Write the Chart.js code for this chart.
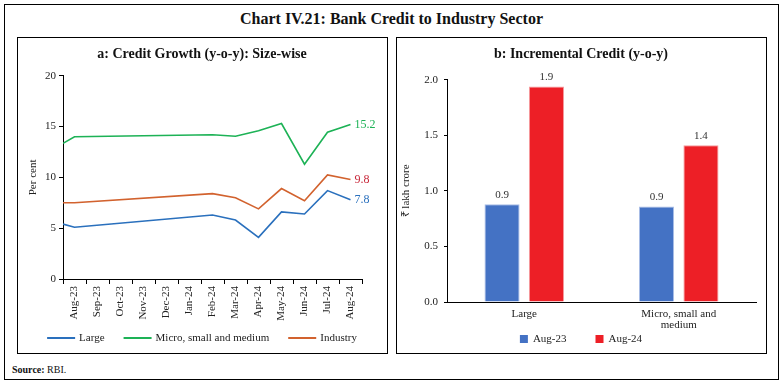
<!DOCTYPE html>
<html>
<head>
<meta charset="utf-8">
<script src="https://cdn.jsdelivr.net/npm/chart.js@4.4.1/dist/chart.umd.min.js"></script>
<style>
    body { margin: 0; background: #fff; width: 783px; height: 385px; position: relative; overflow: hidden; font-family: "Liberation Serif", serif; }
    #frame { position: absolute; left: 4px; top: 4px; width: 775px; height: 376px; border: 1.5px solid #000; box-sizing: border-box; }
    .panel { position: absolute; top: 37px; width: 371px; height: 317px; border: 1.5px solid #000; box-sizing: border-box; }
    #mainTitle { position: absolute; left: 0; width: 783px; top: 10px; text-align: center; font-weight: bold; font-size: 16px; color: #111; }
    #source { position: absolute; left: 12px; top: 364px; font-size: 10px; color: #111; }
    canvas { position: absolute; }
</style>
</head>
<body>
<div id="frame"></div>
<div id="mainTitle">Chart IV.21: Bank Credit to Industry Sector</div>
<div class="panel" style="left:17px"></div>
<div class="panel" style="left:396px"></div>
<canvas id="growthChart" width="368" height="316" style="left:18px;top:38px"></canvas>
<canvas id="creditChart" width="368" height="316" style="left:397px;top:38px"></canvas>
<div id="source"><b>Source:</b> RBI.</div>

<script>
// Panel a: credit growth, per cent (first value is the reading just before Aug-23, at the axis start)
const months = ['Aug-23', 'Sep-23', 'Oct-23', 'Nov-23', 'Dec-23', 'Jan-24', 'Feb-24',
                'Mar-24', 'Apr-24', 'May-24', 'Jun-24', 'Jul-24', 'Aug-24'];
const largeGrowth    = [5.4, 5.1, null, null, null, null, null, 6.3, 5.8, 4.1, 6.6, 6.4, 8.7, 7.8];
const msmeGrowth     = [13.35, 14.0, null, null, null, null, null, 14.2, 14.05, 14.6, 15.3, 11.3, 14.45, 15.2];
const industryGrowth = [7.5, 7.5, null, null, null, null, null, 8.4, 8.0, 6.9, 8.9, 7.7, 10.25, 9.8];

// Panel b: incremental credit, lakh crore
const sizeGroups = ['Large', ['Micro, small and', 'medium']];
const credAug23 = [0.88, 0.86];
const credAug24 = [1.94, 1.41];

const SERIF = '"Liberation Serif", serif';
const INK = '#222';

// x position on the hidden linear axis: start point sits on the axis edge, months at category centres
const toPoints = arr => arr.map((v, i) => ({ x: i === 0 ? -0.5 : i - 1, y: v }));

const endLabels = {
    id: 'endLabels',
    afterDatasetsDraw(chart) {
        const ctx = chart.ctx;
        ctx.save();
        ctx.font = '12px ' + SERIF;
        ctx.textBaseline = 'middle';
        chart.data.datasets.forEach((ds, i) => {
            const pts = chart.getDatasetMeta(i).data;
            const last = pts[pts.length - 1];
            ctx.fillStyle = ds.labelColor;
            ctx.fillText(ds.data[ds.data.length - 1].y.toFixed(1), last.x + 4, last.y);
        });
        ctx.restore();
    }
};

const barLabels = {
    id: 'barLabels',
    afterDatasetsDraw(chart) {
        const ctx = chart.ctx;
        ctx.save();
        ctx.font = '11px ' + SERIF;
        ctx.fillStyle = '#333';
        ctx.textAlign = 'center';
        ctx.textBaseline = 'bottom';
        chart.data.datasets.forEach((ds, i) => {
            chart.getDatasetMeta(i).data.forEach((bar, j) => {
                ctx.fillText(ds.data[j].toFixed(1), bar.x, bar.y - 4);
            });
        });
        ctx.restore();
    }
};

// legend drawn by hand: the built-in one ties item spacing to vertical padding
const bottomLegend = {
    id: 'bottomLegend',
    afterDraw(chart, args, opts) {
        const ctx = chart.ctx;
        ctx.save();
        ctx.font = '11px ' + SERIF;
        ctx.textBaseline = 'middle';
        const items = chart.data.datasets.map(ds => ({
            text: ds.label,
            color: opts.marker === 'line' ? ds.borderColor : ds.backgroundColor,
            w: opts.markerW + opts.textGap + ctx.measureText(ds.label).width
        }));
        const total = items.reduce((s, it) => s + it.w, 0) + opts.itemGap * (items.length - 1);
        let x = chart.width / 2 - total / 2;
        const y = opts.y;
        items.forEach(it => {
            ctx.fillStyle = it.color;
            if (opts.marker === 'line') {
                ctx.fillRect(x, y - 1, opts.markerW, 2);
            } else {
                ctx.fillRect(x, y - 4, opts.markerW, 8);
            }
            ctx.fillStyle = INK;
            ctx.fillText(it.text, x + opts.markerW + opts.textGap, y + 0.5);
            x += it.w + opts.itemGap;
        });
        ctx.restore();
    }
};

function lineSet(label, data, color, labelColor) {
    return {
        label: label,
        data: toPoints(data),
        xAxisID: 'xl',
        borderColor: color,
        backgroundColor: color,
        borderWidth: 1.6,
        pointRadius: 0,
        tension: 0,
        spanGaps: true,
        labelColor: labelColor
    };
}

new Chart(document.getElementById('growthChart'), {
    type: 'line',
    data: {
        labels: months,
        datasets: [
            lineSet('Large', largeGrowth, '#2a70bd', '#2a70bd'),
            lineSet('Micro, small and medium', msmeGrowth, '#1db256', '#1db256'),
            lineSet('Industry', industryGrowth, '#d2622e', '#c8283a')
        ]
    },
    options: {
        responsive: false,
        animation: false,
        layout: { padding: { bottom: 33 } },
        plugins: {
            title: {
                display: true,
                text: 'a: Credit Growth (y-o-y): Size-wise',
                color: '#111',
                font: { family: SERIF, size: 14, weight: 'bold' },
                padding: { top: 8, bottom: 13 }
            },
            legend: { display: false },
            bottomLegend: { marker: 'line', markerW: 28, textGap: 4, itemGap: 19, y: 300 },
            tooltip: { enabled: false }
        },
        scales: {
            x: {
                type: 'category',
                offset: true,
                grid: { display: true, drawOnChartArea: false, offset: true, tickLength: 5, color: '#000' },
                border: { color: '#000' },
                ticks: { color: INK, font: { family: SERIF, size: 11 }, minRotation: 90, maxRotation: 90, autoSkip: false, padding: 2 },
                afterFit: s => { s.height = 42; }
            },
            xl: { type: 'linear', display: false, min: -0.5, max: 12.5 },
            y: {
                min: 0, max: 20,
                ticks: { stepSize: 5, color: INK, font: { family: SERIF, size: 11 }, padding: 3 },
                grid: { drawOnChartArea: false, tickLength: 4, color: '#000' },
                border: { color: '#000' },
                title: { display: true, text: 'Per cent', color: INK, font: { family: SERIF, size: 11 }, padding: { top: 9, bottom: 0 } },
                afterFit: s => { s.width = 45; }
            },
            yr: {
                position: 'right', display: true,
                grid: { display: false }, border: { display: false }, ticks: { display: false },
                afterFit: s => { s.width = 24; }
            }
        }
    },
    plugins: [endLabels, bottomLegend]
});

new Chart(document.getElementById('creditChart'), {
    type: 'bar',
    data: {
        labels: sizeGroups,
        datasets: [
            { label: 'Aug-23', data: credAug23, backgroundColor: '#4472c4', borderColor: '#a9bde6', borderWidth: 1, barPercentage: 0.79, categoryPercentage: 0.575 },
            { label: 'Aug-24', data: credAug24, backgroundColor: '#ed1f26', borderColor: '#f59a9d', borderWidth: 1, barPercentage: 0.79, categoryPercentage: 0.575 }
        ]
    },
    options: {
        responsive: false,
        animation: false,
        layout: { padding: { bottom: 20 } },
        plugins: {
            title: {
                display: true,
                text: 'b: Incremental Credit (y-o-y)',
                color: '#111',
                font: { family: SERIF, size: 14, weight: 'bold' },
                padding: { top: 8, bottom: 17 }
            },
            legend: { display: false },
            bottomLegend: { marker: 'box', markerW: 8, textGap: 5, itemGap: 29, y: 301 },
            tooltip: { enabled: false }
        },
        scales: {
            x: {
                grid: { display: false, drawTicks: false },
                border: { color: '#000' },
                ticks: { color: INK, font: { family: SERIF, size: 11, lineHeight: 1.0 }, maxRotation: 0, padding: 7 },
                afterFit: s => { s.height = 32; }
            },
            y: {
                min: 0, max: 2,
                ticks: { stepSize: 0.5, color: INK, font: { family: SERIF, size: 11 }, padding: 6, callback: v => v.toFixed(1) },
                grid: { drawOnChartArea: false, tickLength: 3, color: '#000' },
                border: { color: '#000' },
                title: { display: true, text: '₹ lakh crore', color: INK, font: { family: SERIF, size: 11 }, padding: { top: 3, bottom: 0 } },
                afterFit: s => { s.width = 50; }
            },
            yr: {
                position: 'right', display: true,
                grid: { display: false }, border: { display: false }, ticks: { display: false },
                afterFit: s => { s.width = 9; }
            }
        }
    },
    plugins: [barLabels, bottomLegend]
});
</script>
</body>
</html>
